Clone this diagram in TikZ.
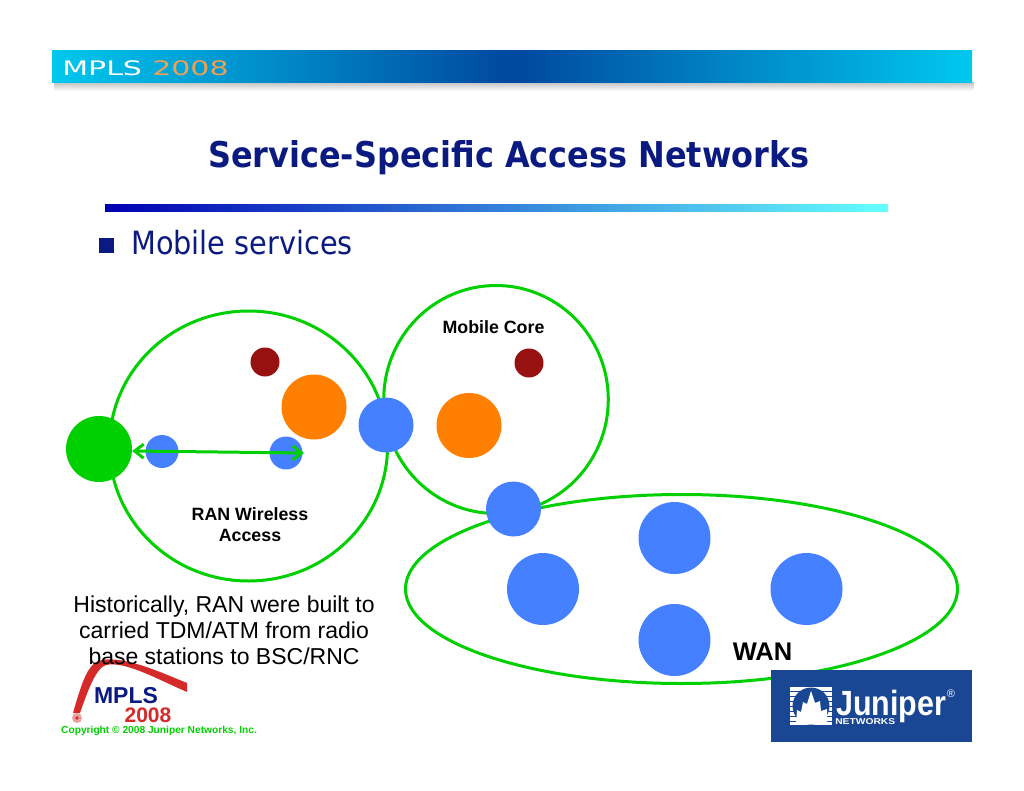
\documentclass[tikz,border=0pt]{standalone}
\usepackage{fontspec}
\setmainfont{Liberation Sans}
\newfontfamily\titlefont{DejaVu Sans Condensed}
\newfontfamily\wide{DejaVu Sans}
\usetikzlibrary{arrows.meta}
\definecolor{ring}{HTML}{00D000}
\definecolor{nodeblue}{HTML}{4480FF}
\definecolor{nodeorange}{HTML}{FF8000}
\definecolor{nodered}{HTML}{971111}
\definecolor{navy}{HTML}{0A1A80}
\definecolor{junblue}{HTML}{1A4793}
\definecolor{swoosh}{HTML}{D42A2A}
\definecolor{hdrend}{HTML}{00C8EE}
\definecolor{hdrmid}{HTML}{0048A0}
\definecolor{hdrorange}{HTML}{F0A050}
\tikzset{
  ringline/.style={draw=ring,line width=3pt,fill=none},
  dot/.style={circle,inner sep=0pt,minimum size=#1,draw=none},
  bluedot/.style={dot=#1,fill=nodeblue},
  orangedot/.style={dot=65,fill=nodeorange},
  reddot/.style={dot=29,fill=nodered},
  lab/.style={font=\bfseries\fontsize{17.8}{21}\selectfont,align=center,text=black},
  barb/.tip={Straight Barb[length=9pt,width=14pt,line width=3pt]},
}
\begin{document}
\begin{tikzpicture}[x=1pt,y=-1pt]
\useasboundingbox (0,0) rectangle (1024,791);
% header band
\shade[top color=black!22,bottom color=white] (54,83) rectangle (974,91);
\shade[left color=hdrend,right color=hdrend,middle color=hdrmid] (52,51) rectangle (972,83);
\node[anchor=west,inner sep=0pt,text=white,font=\wide\fontsize{20}{20}\selectfont,xscale=1.5] (hdrA) at (62,68) {MPLS};
\node[anchor=west,inner sep=0pt,text=hdrorange,font=\wide\fontsize{20}{20}\selectfont,xscale=1.5] (hdrB) at (152,68) {2008};
% title
\node[text=navy,font=\titlefont\bfseries\fontsize{35.5}{40}\selectfont,inner sep=0pt] (title) at (509,158) {Service-Specific Access Networks};
\shade[left color=blue!70!black,right color=cyan!60] (105,205) rectangle (888,212);
\fill[navy] (99,238) rectangle (114,253);
\node[anchor=west,text=navy,font=\titlefont\fontsize{32}{40}\selectfont,inner sep=0pt] (bullet) at (131,243) {Mobile services};
% rings
\node[ringline,circle,inner sep=0pt,minimum size=270,xscale=1.03] (ran) at (248.5,446) {};
\node[ringline,circle,inner sep=0pt,minimum size=228,xscale=0.985] (core) at (496,399.5) {};
\draw[ringline] (681.5,589) ellipse [x radius=276,y radius=94.5];
% logo bottom-left
\fill[swoosh] (73,713) .. controls (82,682) and (88,662) .. (102,660) .. controls (125,656) and (160,672) .. (187,683) -- (187,692) .. controls (155,678) and (125,661) .. (106,665) .. controls (96,668) and (88,690) .. (80,713) -- cycle;
\fill[swoosh!45] (77,718) circle (5);
\fill[swoosh] (77,718) circle (1.8);
\node[text=navy,font=\bfseries\fontsize{23}{23}\selectfont,inner sep=0pt] (logoA) at (126,696) {MPLS};
\node[text=swoosh,font=\bfseries\fontsize{21}{21}\selectfont,inner sep=0pt] (logoB) at (148,715) {2008};
\node[anchor=west,text=ring,font=\bfseries\fontsize{10.2}{12}\selectfont,inner sep=0pt] (copy) at (61,731) {Copyright © 2008 Juniper Networks, Inc.};
% juniper logo
\fill[junblue] (771,670) rectangle (972,742);
\fill[white] (790,687) rectangle (832,725);
\foreach \yy in {691,696,701,706,711,716,721}{\fill[junblue] (790,\yy) rectangle (832,\yy+1);}
\fill[junblue] (811,706) circle (18.5);
\fill[white] (796,724) -- (797,710) -- (801,712) -- (803,702) -- (807,704) -- (811,691) -- (815,703) -- (820,701) -- (821,711) -- (827,709) -- (827,724) -- cycle;
\node[anchor=base west,text=white,font=\bfseries\fontsize{35}{36}\selectfont,inner sep=0pt,xscale=0.87] (jun) at (836,715) {Juniper};
\node[anchor=base west,text=white,font=\bfseries\fontsize{8.5}{9}\selectfont,inner sep=0pt,xscale=1.21] (net) at (835,724) {NETWORKS};
\node[text=white,font=\fontsize{11}{11}\selectfont,inner sep=0pt] (reg) at (951,694) {®};
% nodes
\node[dot=66,fill=ring] (green) at (99,449) {};
\node[bluedot=33] (b1) at (162,451.5) {};
\node[bluedot=33] (b2) at (286,453) {};
\node[bluedot=55] (b3) at (386,425) {};
\node[bluedot=55] (b4) at (513.5,509) {};
\node[bluedot=72] (b5) at (674.5,538) {};
\node[bluedot=72] (b6) at (543,589) {};
\node[bluedot=72] (b7) at (806.5,589) {};
\node[bluedot=72] (b8) at (674.5,640) {};
\node[orangedot] (o1) at (314,407) {};
\node[orangedot] (o2) at (469,425.5) {};
\node[reddot] (r1) at (265,362) {};
\node[reddot] (r2) at (529,363) {};
\coordinate (armEnd) at (304,453);
\draw[barb-barb,draw=ring,line width=3pt] (green.east) ++(0,2) -- (armEnd);
% labels
\node[lab] (lcore) at (493.5,327) {Mobile Core};
\node[lab,font=\bfseries\fontsize{17.8}{21}\selectfont] (lran) at (250,525) {RAN Wireless\\Access};
\node[lab,font=\bfseries\fontsize{25.5}{28}\selectfont] (lwan) at (762.5,652) {WAN};
\node[align=center,font=\fontsize{23}{26}\selectfont,text=black,inner sep=0pt] (note) at (224,630) {Historically, RAN were built to\\carried TDM/ATM from radio\\base stations to BSC/RNC};
\end{tikzpicture}
\end{document}
